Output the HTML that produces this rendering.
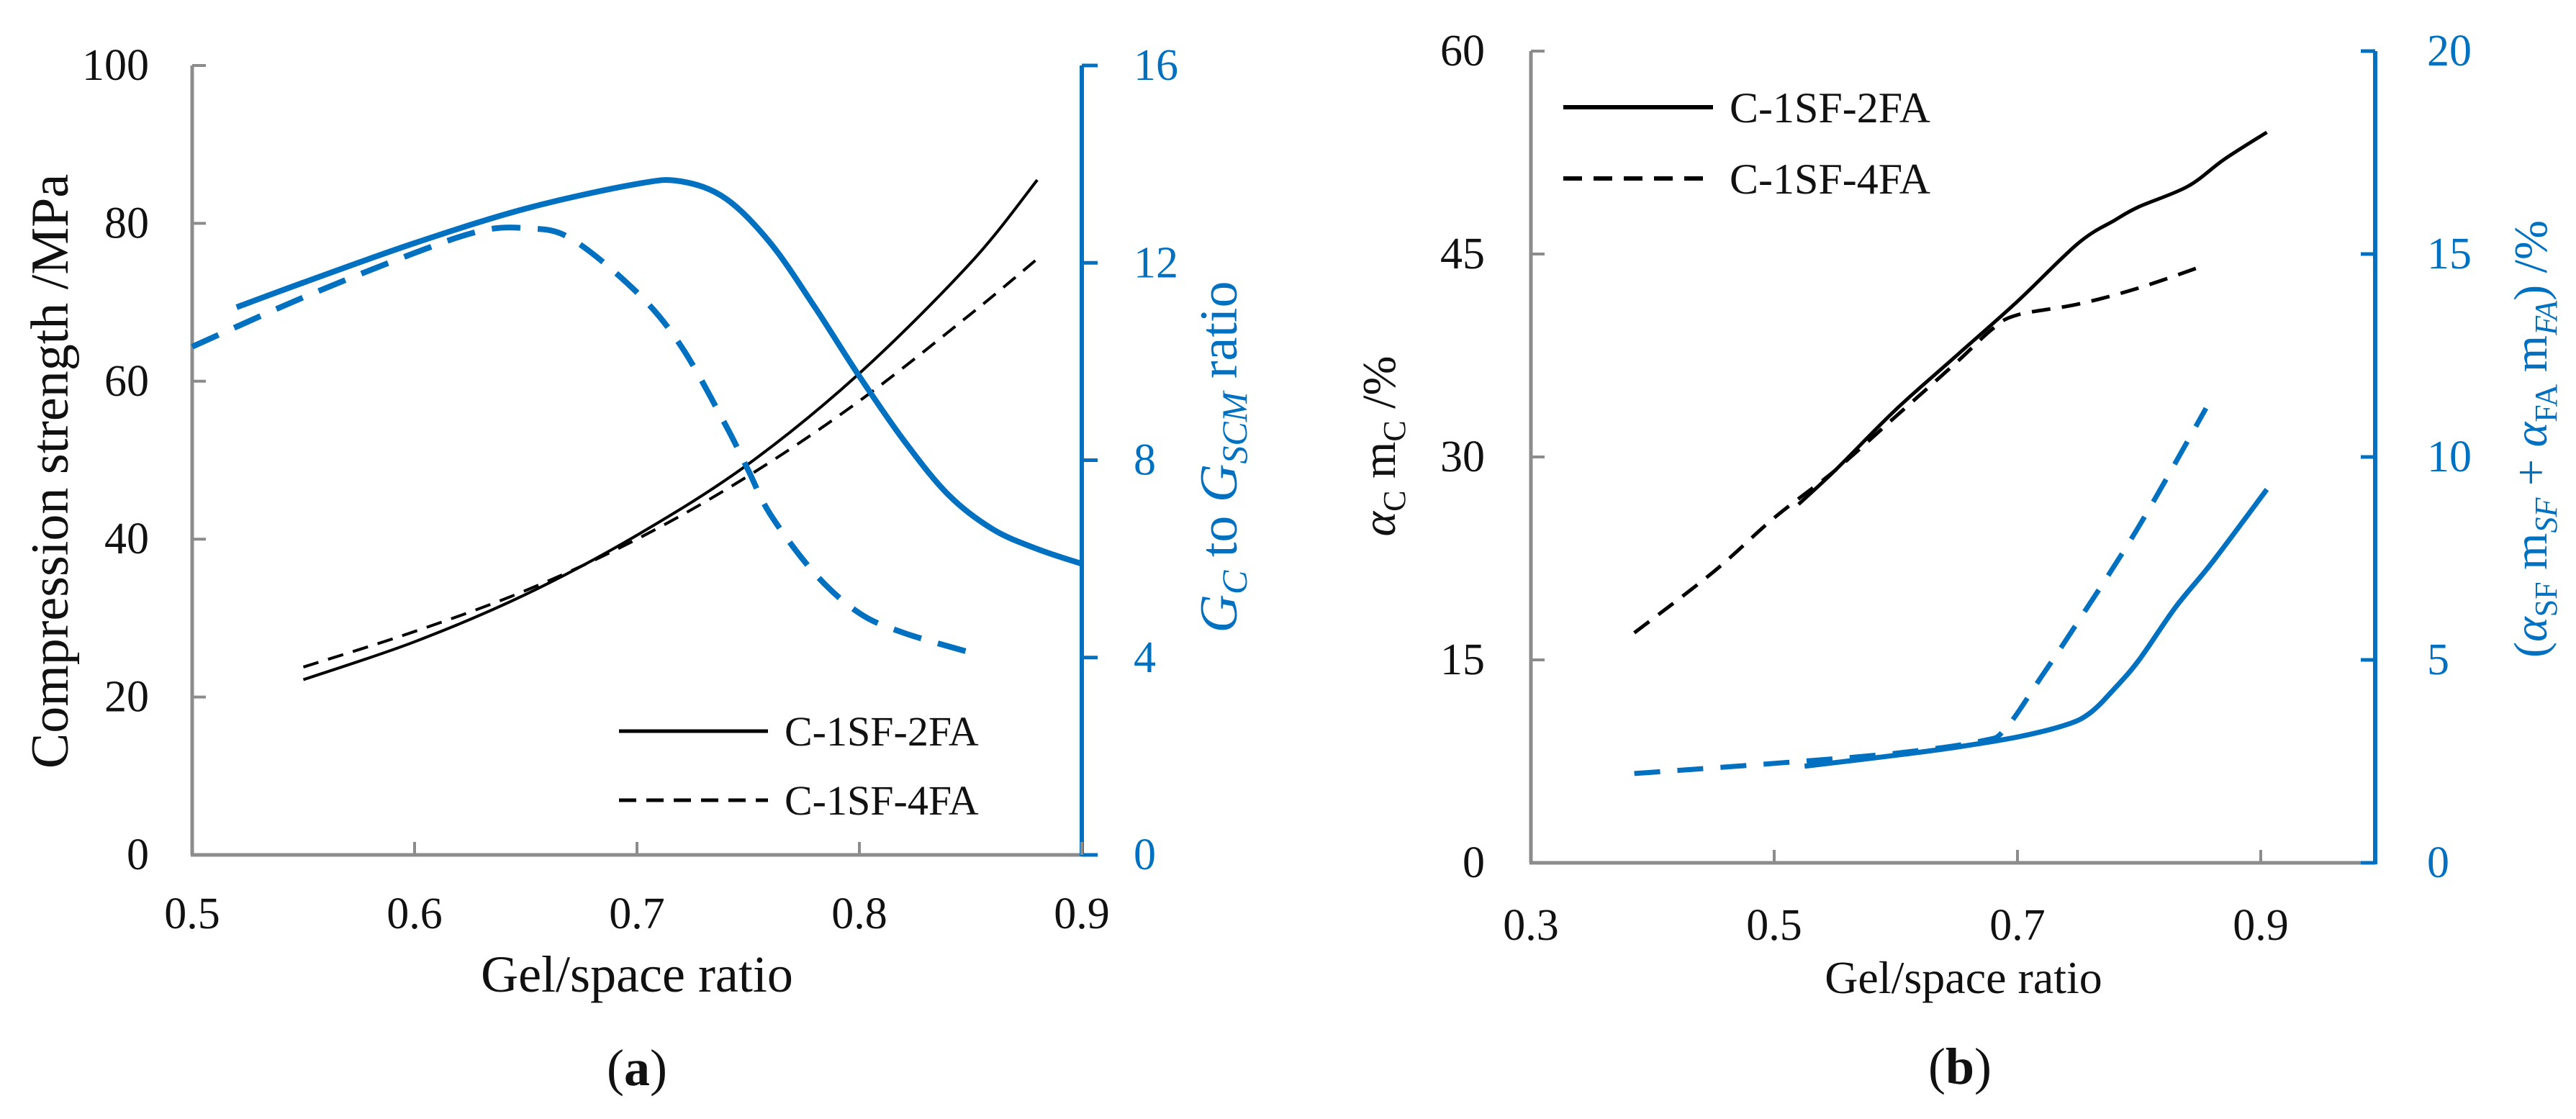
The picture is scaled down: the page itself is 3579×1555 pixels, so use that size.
<!DOCTYPE html>
<html><head><meta charset="utf-8"><style>
html,body{margin:0;padding:0;background:#fff;}
svg{display:block;font-family:"Liberation Serif",serif;}
</style></head><body>
<svg id="fig" width="3579" height="1555" viewBox="0 0 3579 1555" xmlns="http://www.w3.org/2000/svg"></svg>
<script>
// ---- Panel (a) data ----
const aSolidX = [0.55,0.6,0.65,0.7,0.75,0.8,0.85,0.88];
const aSolidY = [22.2,27,33,40.5,49.5,61,75,85.5];
const aDashX = [0.55,0.6,0.65,0.7,0.75,0.8,0.85,0.88];
const aDashY = [23.8,28.3,33.5,40,48,57.5,68.5,75.5];
const aBlueSolidX = [0.52,0.55,0.6,0.65,0.7,0.72,0.74,0.76,0.78,0.8,0.82,0.84,0.86,0.88,0.9];
const aBlueSolidY = [11.1,11.6,12.4,13.1,13.6,13.65,13.3,12.4,11.1,9.7,8.4,7.3,6.6,6.2,5.9];
const aBlueDashX = [0.5,0.55,0.6,0.63,0.65,0.67,0.7,0.72,0.74,0.75,0.76,0.78,0.8,0.82,0.85];
const aBlueDashY = [10.3,11.3,12.2,12.65,12.7,12.5,11.4,10.3,8.7,7.8,6.9,5.7,4.9,4.5,4.1];
const aXTicks = ["0.5","0.6","0.7","0.8","0.9"];
const aYTicks = ["0","20","40","60","80","100"];
const aY2Ticks = ["0","4","8","12","16"];
// ---- Panel (b) data ----
const bSolidX = [0.52,0.55,0.6,0.65,0.7,0.75,0.78,0.8,0.84,0.87,0.905];
const bSolidY = [26.5,29,33.5,37.5,41.5,45.8,47.5,48.5,50,52,54];
const bDashX = [0.385,0.45,0.5,0.55,0.6,0.65,0.68,0.7,0.75,0.8,0.855];
const bDashY = [17,21.5,25.5,29,33,37,39.5,40.5,41.3,42.5,44.2];
const bBlueSolidX = [0.525,0.6,0.65,0.7,0.74,0.76,0.78,0.8,0.83,0.86,0.905];
const bBlueSolidY = [2.38,2.65,2.85,3.1,3.4,3.7,4.3,5.0,6.3,7.4,9.2];
const bBlueDashX = [0.385,0.5,0.6,0.67,0.69,0.72,0.75,0.8,0.855];
const bBlueDashY = [2.2,2.45,2.7,3.0,3.3,4.6,5.95,8.3,11.2];
const bXTicks = ["0.3","0.5","0.7","0.9"];
const bYTicks = ["0","15","30","45","60"];
const bY2Ticks = ["0","5","10","15","20"];

const NS="http://www.w3.org/2000/svg";
const svg=document.getElementById('fig');
const BLUE="#0070C0", GREY="#8c8c8c";
function mk(tag,attrs,parent){const e=document.createElementNS(NS,tag);for(const k in attrs)e.setAttribute(k,attrs[k]);(parent||svg).appendChild(e);return e;}
function smooth(pts){let d="M"+pts[0][0]+","+pts[0][1];for(let i=0;i<pts.length-1;i++){const p0=pts[i-1]||pts[i],p1=pts[i],p2=pts[i+1],p3=pts[i+2]||p2;const c1=[p1[0]+(p2[0]-p0[0])/6,p1[1]+(p2[1]-p0[1])/6],c2=[p2[0]-(p3[0]-p1[0])/6,p2[1]-(p3[1]-p1[1])/6];d+=" C"+c1[0]+","+c1[1]+" "+c2[0]+","+c2[1]+" "+p2[0]+","+p2[1];}return d;}

const ax=v=>267+(v-0.5)/0.4*1236;
const ay=v=>1188-v/100*1097;
const ay2=v=>1188-v/16*1097;
const bx=v=>2127+(v-0.3)/0.2*338;
const by=v=>1199-v/60*1128;
const by2=v=>1199-v/20*1128;

function series(xs,ys,fx,fy,stroke,w,dash,name){const pts=xs.map((x,i)=>[fx(x),fy(ys[i])]);const p=mk('path',{d:smooth(pts),fill:'none',stroke:stroke,'stroke-width':w,'stroke-dasharray':dash||'none'});

}
function text(x,y,s,size,fill,anchor,name,extra){const t=mk('text',Object.assign({x:x,y:y,'font-size':size,fill:fill,'text-anchor':anchor},extra||{}));t.textContent=s;

return t;}

// ---- Panel a ----
mk('line',{x1:267,y1:91,x2:267,y2:1188,stroke:GREY,'stroke-width':5,});
mk('line',{x1:265,y1:1188,x2:1503,y2:1188,stroke:GREY,'stroke-width':5,});
mk('line',{x1:1503,y1:91,x2:1503,y2:1190,stroke:BLUE,'stroke-width':6,});
aYTicks.forEach(s=>{const v=+s;mk('line',{x1:267,y1:ay(v),x2:286,y2:ay(v),stroke:GREY,'stroke-width':4,});text(207,ay(v)+20,s,62,'#111','end','a-y-tick-label');});
aY2Ticks.forEach(s=>{const v=+s;mk('line',{x1:1503,y1:ay2(v),x2:1525,y2:ay2(v),stroke:BLUE,'stroke-width':5,});text(1575,ay2(v)+20,s,62,BLUE,'start','a-y2-tick-label');});
aXTicks.forEach(s=>{const v=+s;mk('line',{x1:ax(v),y1:1188,x2:ax(v),y2:1170,stroke:GREY,'stroke-width':4,});text(ax(v),1290,s,62,'#111','middle','a-x-tick-label');});
text(885,1378,"Gel/space ratio",72,'#111','middle','a-x-axis-title');
text(885,1508,"",72,'#111','middle','a-caption').innerHTML='(<tspan font-weight="bold">a</tspan>)';
text(0,0,"Compression strength /MPa",74,'#111','middle','a-y-axis-title',{transform:'translate(94,655) rotate(-90)'});
const t2=text(0,0,"",74,BLUE,'middle','a-y2-axis-title',{transform:'translate(1718,635) rotate(-90)'});
t2.innerHTML='<tspan font-style="italic">G</tspan><tspan font-style="italic" font-size="50" dy="14">C</tspan><tspan dy="-14"> to </tspan><tspan font-style="italic">G</tspan><tspan font-style="italic" font-size="50" dy="14">SCM</tspan><tspan dy="-14"> ratio</tspan>';
series(aSolidX,aSolidY,ax,ay,'#000',4,null,'a-line-c1sf2fa');
series(aDashX,aDashY,ax,ay,'#000',4,'22,14','a-line-c1sf4fa');
series(aBlueSolidX,aBlueSolidY,ax,ay2,BLUE,8,null,'a-ratio-c1sf2fa');
series(aBlueDashX,aBlueDashY,ax,ay2,BLUE,8,'40,24','a-ratio-c1sf4fa');
mk('line',{x1:860,y1:1016,x2:1067,y2:1016,stroke:'#000','stroke-width':5,});
text(1090,1036,"C-1SF-2FA",58,'#111','start','a-legend-label-2fa');
mk('line',{x1:860,y1:1112,x2:1067,y2:1112,stroke:'#000','stroke-width':5,'stroke-dasharray':'24,14',});
text(1090,1132,"C-1SF-4FA",58,'#111','start','a-legend-label-4fa');

// ---- Panel b ----
mk('line',{x1:2127,y1:71,x2:2127,y2:1199,stroke:GREY,'stroke-width':5,});
mk('line',{x1:2125,y1:1199,x2:3300,y2:1199,stroke:GREY,'stroke-width':5,});
mk('line',{x1:3300,y1:71,x2:3300,y2:1201,stroke:BLUE,'stroke-width':6,});
bYTicks.forEach(s=>{const v=+s;mk('line',{x1:2127,y1:by(v),x2:2146,y2:by(v),stroke:GREY,'stroke-width':4,});text(2063,by(v)+20,s,62,'#111','end','b-y-tick-label');});
bY2Ticks.forEach(s=>{const v=+s;mk('line',{x1:3280,y1:by2(v),x2:3300,y2:by2(v),stroke:BLUE,'stroke-width':5,});text(3372,by2(v)+20,s,62,BLUE,'start','b-y2-tick-label');});
bXTicks.forEach(s=>{const v=+s;mk('line',{x1:bx(v),y1:1199,x2:bx(v),y2:1181,stroke:GREY,'stroke-width':4,});text(bx(v),1306,s,62,'#111','middle','b-x-tick-label');});
text(2728,1380,"Gel/space ratio",64,'#111','middle','b-x-axis-title');
text(2723,1506,"",72,'#111','middle','b-caption').innerHTML='(<tspan font-weight="bold">b</tspan>)';
const bl=text(0,0,"",66,'#111','middle','b-y-axis-title',{transform:'translate(1938,620) rotate(-90)'});
bl.innerHTML='<tspan font-style="italic">α</tspan><tspan font-size="44" dy="14">C</tspan><tspan dy="-14"> m</tspan><tspan font-size="44" dy="14">C</tspan><tspan dy="-14"> /%</tspan>';
const br=text(0,0,"",66,BLUE,'middle','b-y2-axis-title',{transform:'translate(3538,610) rotate(-90)'});
br.innerHTML='(<tspan font-style="italic">α</tspan><tspan font-size="44" dy="14">SF</tspan><tspan dy="-14"> m</tspan><tspan font-style="italic" font-size="44" dy="14">SF</tspan><tspan dy="-14"> + </tspan><tspan font-style="italic">α</tspan><tspan font-size="44" dy="14">FA</tspan><tspan dy="-14"> m</tspan><tspan font-style="italic" font-size="44" dy="14">FA</tspan><tspan dy="-14">) /%</tspan>';
series(bSolidX,bSolidY,bx,by,'#000',5,null,'b-line-c1sf2fa');
series(bDashX,bDashY,bx,by,'#000',5,'26,16','b-line-c1sf4fa');
series(bBlueSolidX,bBlueSolidY,bx,by2,BLUE,7,null,'b-scm-c1sf2fa');
series(bBlueDashX,bBlueDashY,bx,by2,BLUE,7,'36,24','b-scm-c1sf4fa');
mk('line',{x1:2172,y1:149,x2:2380,y2:149,stroke:'#000','stroke-width':6,});
text(2403,170,"C-1SF-2FA",60,'#111','start','b-legend-label-2fa');
mk('line',{x1:2172,y1:248,x2:2380,y2:248,stroke:'#000','stroke-width':6,'stroke-dasharray':'26,16',});
text(2403,269,"C-1SF-4FA",60,'#111','start','b-legend-label-4fa');
</script>
</body></html>
